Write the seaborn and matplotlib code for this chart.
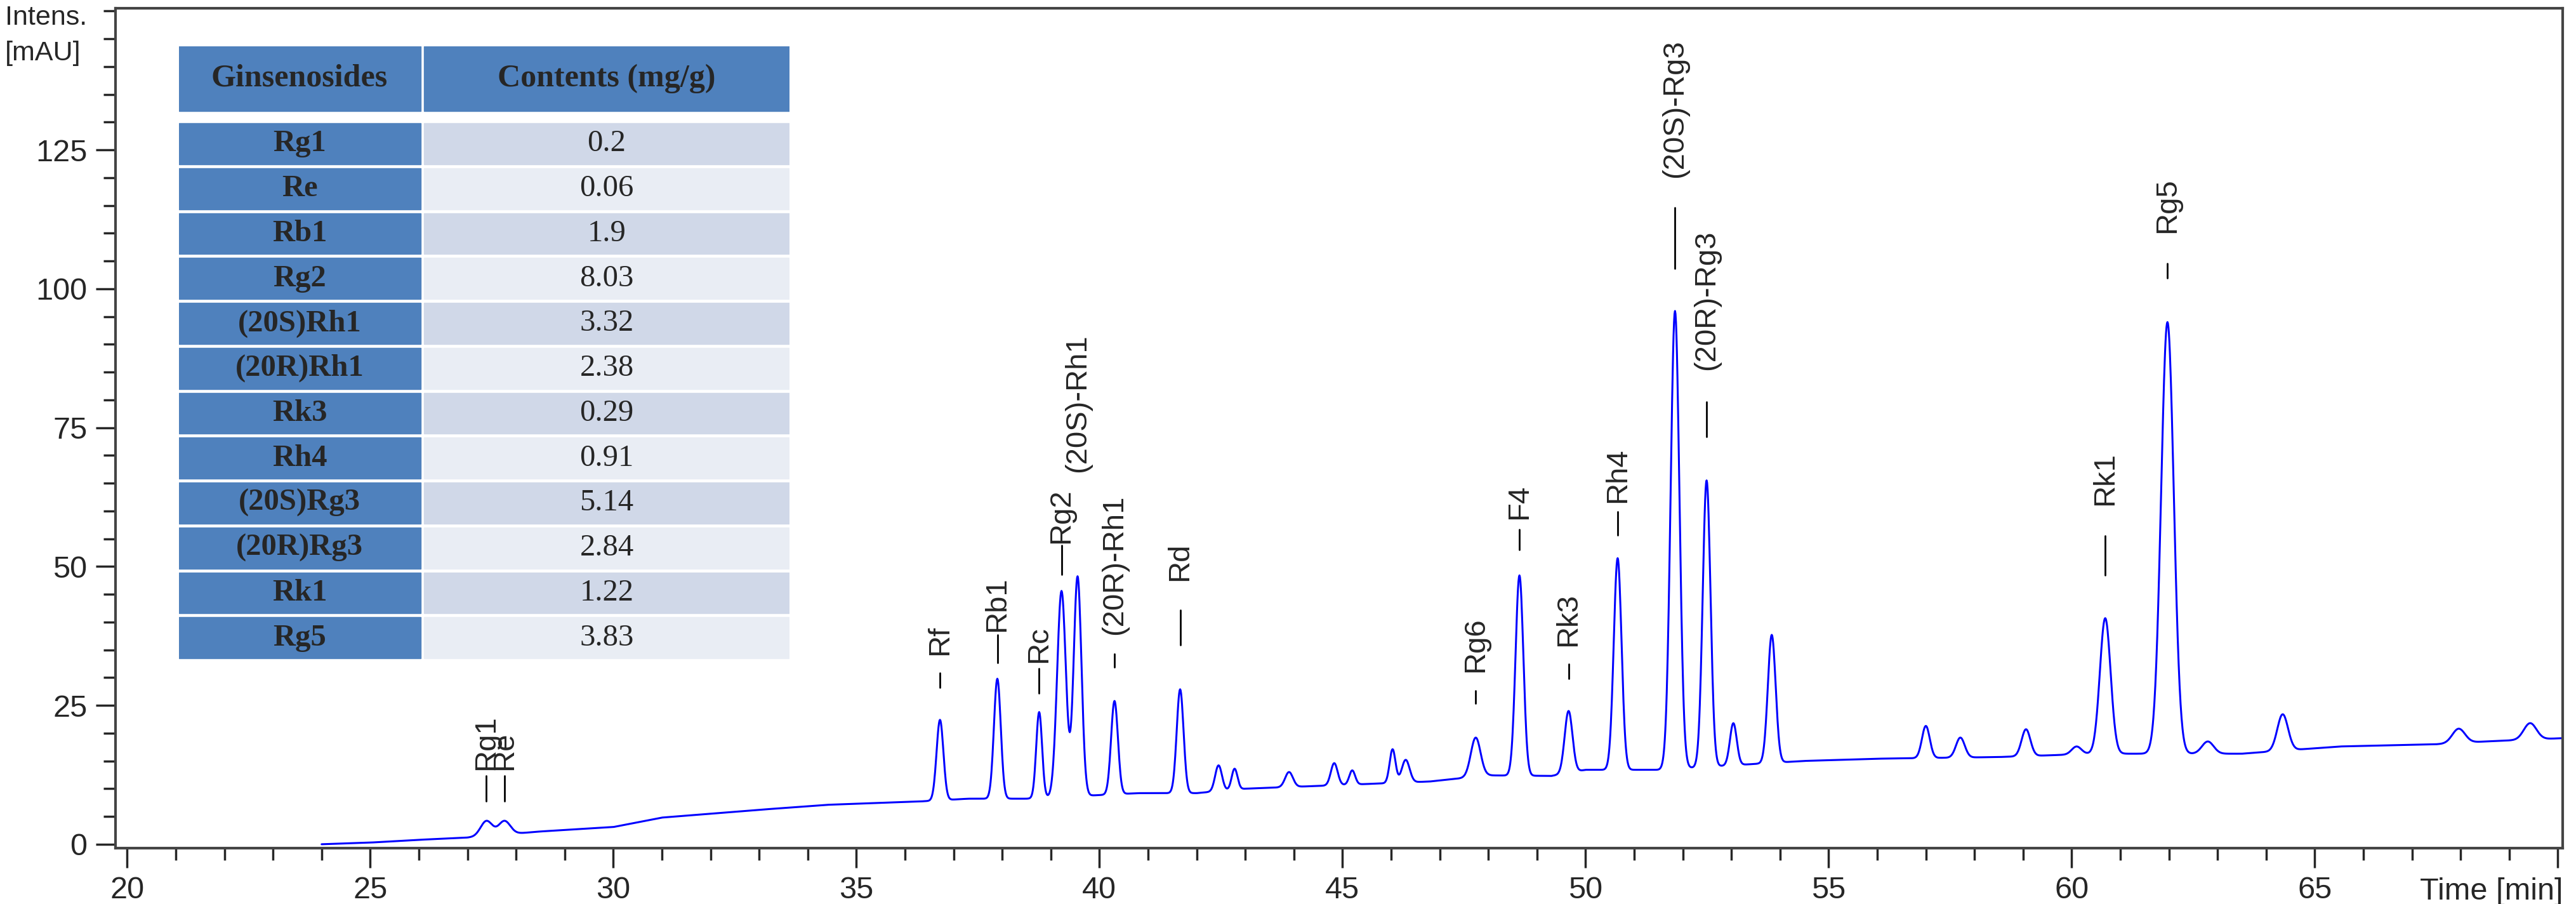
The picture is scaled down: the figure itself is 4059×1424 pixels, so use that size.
import numpy as np
import pandas as pd
import matplotlib
matplotlib.use("Agg")
import matplotlib.pyplot as plt
from matplotlib.patches import Rectangle
from matplotlib.ticker import MultipleLocator
import seaborn as sns

# ---- data ----
baseline_t = [24.0, 25.0, 26.0, 27.0, 28.5, 30.0, 31.0, 33.0, 34.4, 36.3, 37.3, 38.5, 40.8, 42.0,
              43.0, 44.5, 46.8, 48.0, 49.3, 50.0, 51.5, 54.5, 56.0, 58.5, 60.5, 63.5, 65.5, 67.5, 68.5, 70.1]
baseline_v = [0.0, 0.3, 0.8, 1.2, 2.3, 3.1, 4.8, 6.2, 7.1, 7.7, 8.2, 8.2, 9.2, 9.2,
              10.0, 10.5, 11.3, 12.4, 12.3, 13.4, 13.4, 15.0, 15.4, 15.7, 16.3, 16.3, 17.6, 18.0, 18.5, 19.1]
peak_t = [27.39, 27.76, 36.72, 37.90, 38.76, 39.22, 39.55, 40.31, 41.66, 42.45, 42.78, 43.90, 44.83,
          45.20, 46.03, 46.30, 47.74, 48.64, 49.65, 50.66, 51.84, 52.49, 53.04, 53.83, 57.00, 57.71,
          59.06, 60.10, 60.69, 61.97, 62.80, 64.34, 67.96, 69.43]
peak_top = [4.2, 4.2, 22.4, 29.8, 23.8, 45.6, 48.2, 25.8, 27.9, 14.2, 13.6, 13.0, 14.6,
            13.3, 17.1, 15.2, 19.2, 48.4, 24.0, 51.5, 96.0, 65.5, 21.8, 37.7, 21.3, 19.2,
            20.7, 17.6, 40.7, 94.0, 18.5, 23.4, 20.8, 21.8]
peak_w = [0.12, 0.12, 0.07, 0.07, 0.06, 0.09, 0.08, 0.07, 0.07, 0.07, 0.06, 0.08, 0.07,
          0.06, 0.06, 0.08, 0.1, 0.08, 0.08, 0.08, 0.09, 0.08, 0.07, 0.08, 0.08, 0.09,
          0.09, 0.1, 0.11, 0.13, 0.12, 0.11, 0.13, 0.13]

label_names = ["Rg1", "Re", "Rf", "Rb1", "Rc", "Rg2", "(20S)-Rh1", "(20R)-Rh1", "Rd", "Rg6", "F4", "Rk3",
               "Rh4", "(20S)-Rg3", "(20R)-Rg3", "Rk1", "Rg5"]
label_t = [27.39, 27.76, 36.72, 37.90, 38.76, 39.22, 39.55, 40.31, 41.66, 47.74, 48.64, 49.65,
           50.66, 51.84, 52.49, 60.69, 61.97]
tick_lo = [7.8, 7.8, 28.2, 32.7, 27.2, 48.6, None, 31.9, 35.9, 25.4, 53.0, 29.8, 55.7, 103.7, 73.4, 48.4, 101.9]
tick_hi = [12.3, 12.3, 30.8, 37.7, 31.6, 53.8, None, 34.3, 42.2, 27.7, 56.7, 32.5, 59.9, 114.6, 79.6, 55.5, 104.6]
text_y = [13.4, 13.4, 34.0, 38.3, 32.7, 54.1, 67.0, 37.7, 47.4, 31.0, 58.5, 35.6, 61.5, 120.0, 85.4, 61.0, 110.0]

table_names = ["Rg1", "Re", "Rb1", "Rg2", "(20S)Rh1", "(20R)Rh1", "Rk3", "Rh4", "(20S)Rg3", "(20R)Rg3", "Rk1", "Rg5"]
table_values = ["0.2", "0.06", "1.9", "8.03", "3.32", "2.38", "0.29", "0.91", "5.14", "2.84", "1.22", "3.83"]
table_header = ["Ginsenosides", "Contents (mg/g)"]

# ---- build trace ----
t = np.arange(24.0, 70.1, 0.01)
base = np.interp(t, baseline_t, baseline_v)
sig = base.copy()
for pt, top, w in zip(peak_t, peak_top, peak_w):
    amp = top - np.interp(pt, baseline_t, baseline_v)
    sig += amp * np.exp(-0.5 * ((t - pt) / w) ** 2)
df = pd.DataFrame({"t": t, "v": sig})

sns.set_style("ticks")
plt.rcParams["font.family"] = ["Liberation Sans", "DejaVu Sans"]

W, H = 4059, 1424
fig = plt.figure(figsize=(W / 100, H / 100), dpi=100)
ax = fig.add_axes([182 / W, 1 - 1336 / H, (4038 - 182) / W, (1336 - 13) / H])
sns.lineplot(data=df, x="t", y="v", ax=ax, color="#0000FF", lw=2.2, estimator=None)
ax.set_xlim(19.76, 70.1)
ax.set_ylim(-0.7, 150.5)
ax.set_xlabel("")
ax.set_ylabel("")
ax.xaxis.set_minor_locator(MultipleLocator(1))
ax.yaxis.set_minor_locator(MultipleLocator(5))
xt = list(range(20, 71, 5))
ax.set_xticks(xt)
ax.set_xticklabels([str(v) if v < 70 else "" for v in xt])
ax.set_yticks([0, 25, 50, 75, 100, 125])
ax.tick_params(axis="both", which="major", length=22, width=2.5, labelsize=35, pad=10)
ax.tick_params(axis="both", which="minor", length=14, width=2.5)
for s in ax.spines.values():
    s.set_color("#444444")
    s.set_linewidth(3)
ax.text(1.0, -0.035, "Time [min]", transform=ax.transAxes, ha="right", va="top", fontsize=35)
fig.text(8 / W, 1 - 8 / H, "Intens.\n[mAU]", ha="left", va="top", fontsize=31, linespacing=1.5)

for name, lt, lo, hi, ty in zip(label_names, label_t, tick_lo, tick_hi, text_y):
    if lo is not None:
        ax.plot([lt, lt], [lo, hi], color="black", lw=2)
    ax.text(lt, ty, name, rotation=90, ha="center", va="bottom", fontsize=34)

# ---- table ----
top, bot = 73, 1043
ta = fig.add_axes([282 / W, 1 - bot / H, (1244 - 282) / W, (bot - top) / H])
ta.set_xlim(282, 1244)
ta.set_ylim(bot, top)
ta.axis("off")
blue = "#4F81BD"
serif = ["Liberation Serif", "DejaVu Serif"]
ta.add_patch(Rectangle((282, top), 381, 102, color=blue))
ta.add_patch(Rectangle((668, top), 576, 102, color=blue))
ta.text(472, top + 51, table_header[0], ha="center", va="center", fontsize=36, fontweight="bold", family=serif)
ta.text(956, top + 51, table_header[1], ha="center", va="center", fontsize=36, fontweight="bold", family=serif)
r0 = 194
pitch = (bot - r0) / 12
for i, (n, v) in enumerate(zip(table_names, table_values)):
    y0 = r0 + i * pitch
    hh = pitch - 6
    ta.add_patch(Rectangle((282, y0), 381, hh, color=blue))
    ta.add_patch(Rectangle((668, y0), 576, hh, color="#D0D8E8" if i % 2 == 0 else "#E9EDF4"))
    ta.text(472, y0 + hh / 2, n, ha="center", va="center", fontsize=35, fontweight="bold", family=serif)
    ta.text(956, y0 + hh / 2, v, ha="center", va="center", fontsize=35, family=serif)

fig.savefig("out.png", dpi=100)
